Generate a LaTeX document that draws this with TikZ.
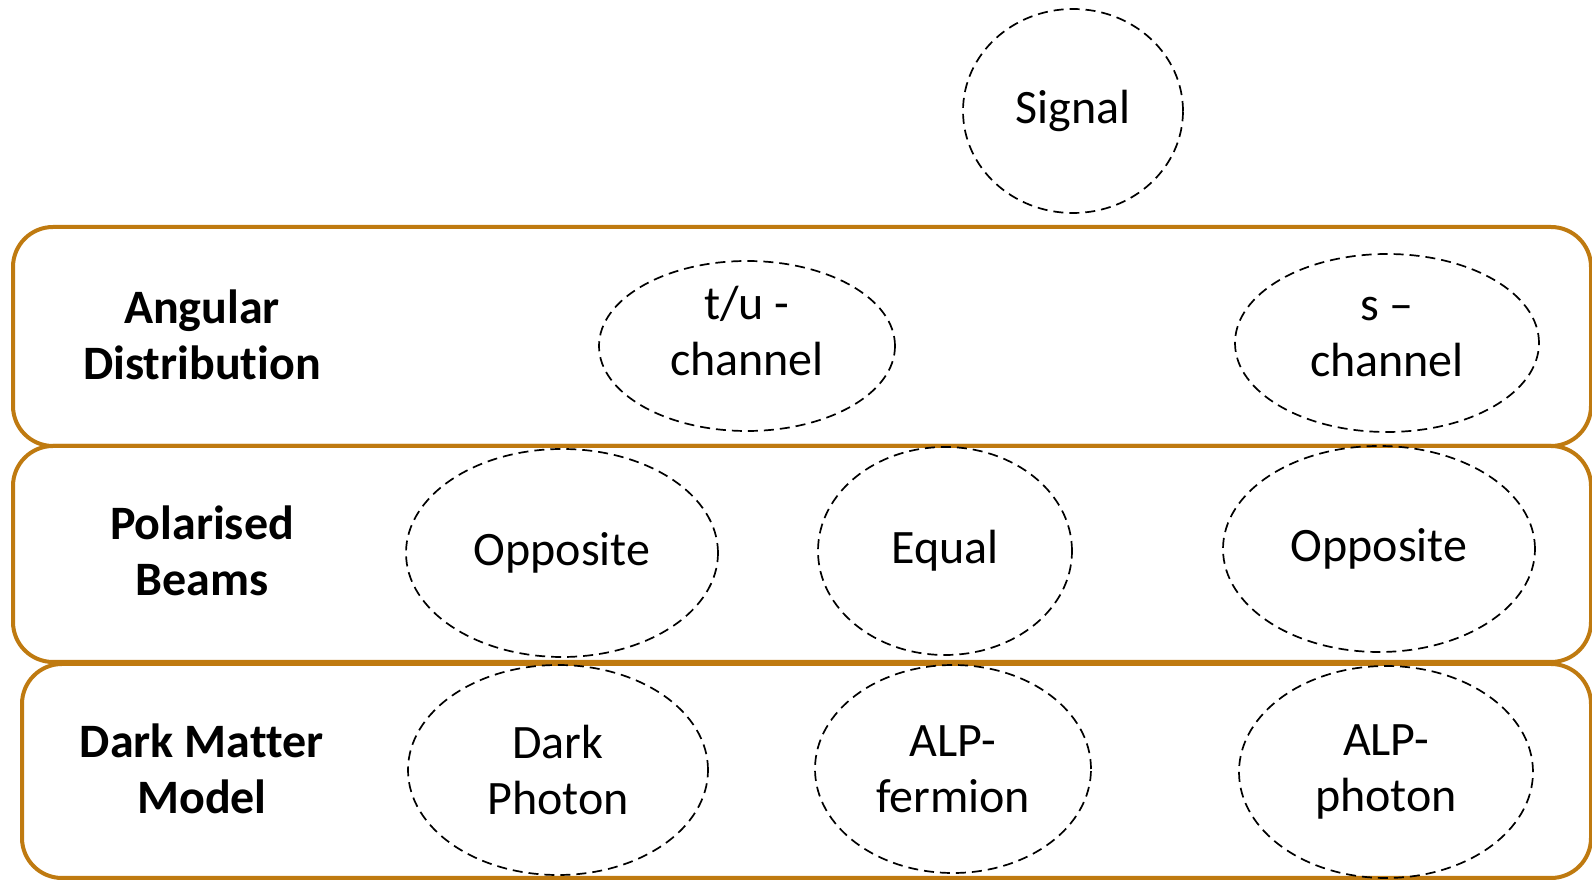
\documentclass[tikz,border=0pt]{standalone}
\usepackage{fontspec}
\setmainfont{Carlito}[Ligatures={NoCommon,NoContextual},Contextuals=NoAlternate]
\usetikzlibrary{shapes.geometric}
\definecolor{boxgold}{RGB}{191,122,16}

\begin{document}
\begin{tikzpicture}[x=0.5pt,y=-0.5pt,
  layer/.style={draw=boxgold,line width=2pt,rounded corners=20pt,inner sep=0pt},
  bubble/.style={ellipse,draw,dash pattern=on 5pt off 3pt,line width=0.85pt,
    inner sep=0pt,align=center,font=\fontsize{24}{28}\selectfont},
  heading/.style={align=center,font=\fontsize{24}{28}\selectfont\bfseries}]
  \useasboundingbox (0,0) rectangle (1592,881);
  \node[layer,minimum width=789pt,minimum height=109.5pt] (angbox) at (802,336.5) {};
  \node[layer,minimum width=789pt,minimum height=108pt] (polbox) at (802,554) {};
  \node[layer,minimum width=784.5pt,minimum height=107pt] (dmbox) at (806.5,771) {};

  \node[heading] (angular) at (202,335) {Angular\\Distribut\kern0pt ion};
  \node[heading] (polarised) at (202,551) {Polarised\\Beams};
  \node[heading] (dmmodel) at (202,769) {Dark Mat\kern0pt ter\\Model};

  \node[bubble,minimum width=110pt,minimum height=102pt] (signal) at (1073,111) {Signal};
  \node[bubble,minimum width=148pt,minimum height=85pt,text depth=15pt] (tuchan) at (747,346) {t/u -\\channel};
  \node[bubble,minimum width=152pt,minimum height=89pt,text depth=6pt] (schan) at (1387,343) {s –\\channel};
  \node[bubble,minimum width=156pt,minimum height=104pt] (oppleft) at (562,553) {Opposite};
  \node[bubble,minimum width=127pt,minimum height=104pt] (equal) at (945,551) {Equal};
  \node[bubble,minimum width=156pt,minimum height=103pt] (oppright) at (1379,549) {Opposite};
  \node[bubble,minimum width=150pt,minimum height=105pt] (darkph) at (558,770) {Dark\\Photon};
  \node[bubble,minimum width=138pt,minimum height=104pt] (alpferm) at (953,769) {ALP-\\fermion};
  \node[bubble,minimum width=147pt,minimum height=106pt] (alpphot) at (1386,772) {ALP-\\photon};
\end{tikzpicture}
\end{document}
